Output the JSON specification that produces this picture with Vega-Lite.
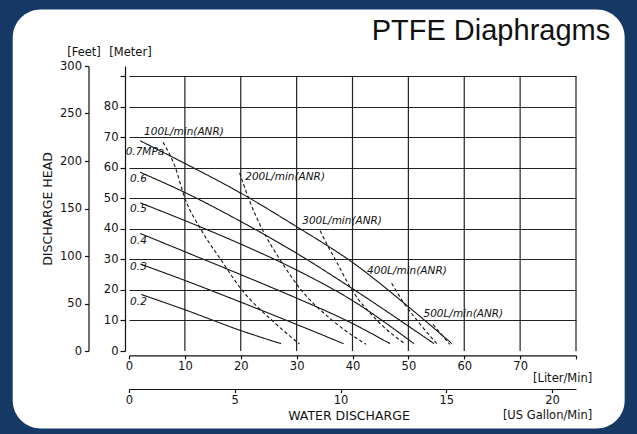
{
  "$schema": "https://vega.github.io/schema/vega-lite/v6.json",
  "width": 447,
  "height": 285,
  "padding": {"left": 12, "top": 9, "right": 13, "bottom": 6},
  "background": "#153864",
  "config": {
    "view": {"stroke": null},
    "axis": {
      "labelFont": "DejaVu Sans", "labelFontSize": 11.5, "labelColor": "#111",
      "titleFont": "DejaVu Sans", "titleFontWeight": "normal", "titleColor": "#111",
      "domainColor": "#111", "domainWidth": 1.2, "tickColor": "#111", "tickWidth": 1.2,
      "grid": false, "labelFlush": false, "labelOverlap": false
    }
  },
  "resolve": {
    "scale": {"x": "independent", "y": "independent"},
    "axis": {"x": "independent", "y": "independent"}
  },
  "layer": [
    {
      "data": {"values": [{}]},
      "mark": {"type": "rect", "fill": "#ffffff", "cornerRadius": 28},
      "encoding": {
        "x": {"datum": -5.498, "type": "quantitative",
          "scale": {"domain": [0, 21.134], "nice": false, "zero": false},
          "axis": {"orient": "bottom", "zindex": 1, "offset": 38, "values": [0, 5, 10, 15, 20], "tickSize": 3.5, "labelPadding": 2,
            "title": "[US Gallon/Min]", "titleX": 462.7, "titleY": 26.6, "titleAlign": "right", "titleBaseline": "middle", "titleFontSize": 11.5}},
        "x2": {"datum": 23.435},
        "y": {"datum": 359.4, "type": "quantitative",
          "scale": {"domain": [0, 300], "nice": false, "zero": false},
          "axis": {"orient": "left", "zindex": 1, "offset": 40.5, "values": [0, 50, 100, 150, 200, 250, 300], "tickSize": 4, "labelPadding": 3,
            "title": "[Feet]", "titleAngle": 0, "titleX": -5, "titleY": -13.5, "titleAlign": "center", "titleBaseline": "middle", "titleFontSize": 11.5}},
        "y2": {"datum": -81.7}
      }
    },
    {
      "data": {"values": [{"lpm": 10}, {"lpm": 20}, {"lpm": 30}, {"lpm": 40}, {"lpm": 50}, {"lpm": 60}, {"lpm": 70}, {"lpm": 80}]},
      "mark": {"type": "rule", "color": "#222", "strokeWidth": 1.2},
      "encoding": {
        "x": {"field": "lpm", "type": "quantitative",
          "scale": {"domain": [0, 80], "nice": false, "zero": false},
          "axis": {"orient": "top", "zindex": 1, "domain": false, "ticks": false, "labels": false,
            "title": "PTFE Diaphragms", "titleFont": "Liberation Sans", "titleFontSize": 29,
            "titleX": 480.7, "titleY": -26.4, "titleAlign": "right", "titleBaseline": "alphabetic"}},
        "y": {"datum": 0, "type": "quantitative",
          "scale": {"domain": [0, 93.3], "nice": false, "zero": false}, "axis": null},
        "y2": {"datum": 90}
      }
    },
    {
      "data": {"values": [
        {"series": "0.7", "type": "pressure", "lpm": 2, "m": 68.8},
        {"series": "0.7", "type": "pressure", "lpm": 10, "m": 61.4},
        {"series": "0.7", "type": "pressure", "lpm": 20, "m": 51.7},
        {"series": "0.7", "type": "pressure", "lpm": 30, "m": 40.7},
        {"series": "0.7", "type": "pressure", "lpm": 40, "m": 29.0},
        {"series": "0.7", "type": "pressure", "lpm": 50, "m": 14.5},
        {"series": "0.7", "type": "pressure", "lpm": 57.8, "m": 2.4},
        {"series": "0.6", "type": "pressure", "lpm": 2, "m": 58.5},
        {"series": "0.6", "type": "pressure", "lpm": 10, "m": 51.9},
        {"series": "0.6", "type": "pressure", "lpm": 20, "m": 42.4},
        {"series": "0.6", "type": "pressure", "lpm": 30, "m": 32.0},
        {"series": "0.6", "type": "pressure", "lpm": 40, "m": 20.4},
        {"series": "0.6", "type": "pressure", "lpm": 54.6, "m": 2.4},
        {"series": "0.5", "type": "pressure", "lpm": 2, "m": 48.5},
        {"series": "0.5", "type": "pressure", "lpm": 10, "m": 42.7},
        {"series": "0.5", "type": "pressure", "lpm": 20, "m": 35.0},
        {"series": "0.5", "type": "pressure", "lpm": 30, "m": 26.5},
        {"series": "0.5", "type": "pressure", "lpm": 40, "m": 16.5},
        {"series": "0.5", "type": "pressure", "lpm": 51, "m": 2.4},
        {"series": "0.4", "type": "pressure", "lpm": 2, "m": 38.5},
        {"series": "0.4", "type": "pressure", "lpm": 10, "m": 32.5},
        {"series": "0.4", "type": "pressure", "lpm": 20, "m": 25.0},
        {"series": "0.4", "type": "pressure", "lpm": 30, "m": 17.3},
        {"series": "0.4", "type": "pressure", "lpm": 40, "m": 9.0},
        {"series": "0.4", "type": "pressure", "lpm": 46.7, "m": 2.4},
        {"series": "0.3", "type": "pressure", "lpm": 2, "m": 28.5},
        {"series": "0.3", "type": "pressure", "lpm": 10, "m": 23.1},
        {"series": "0.3", "type": "pressure", "lpm": 20, "m": 16.0},
        {"series": "0.3", "type": "pressure", "lpm": 30, "m": 8.7},
        {"series": "0.3", "type": "pressure", "lpm": 38.4, "m": 2.4},
        {"series": "0.2", "type": "pressure", "lpm": 2.2, "m": 18.5},
        {"series": "0.2", "type": "pressure", "lpm": 10, "m": 13.5},
        {"series": "0.2", "type": "pressure", "lpm": 20, "m": 6.7},
        {"series": "0.2", "type": "pressure", "lpm": 27.2, "m": 2.4},
        {"series": "100", "type": "air", "lpm": 6.1, "m": 68.3},
        {"series": "100", "type": "air", "lpm": 8.3, "m": 60},
        {"series": "100", "type": "air", "lpm": 10, "m": 50},
        {"series": "100", "type": "air", "lpm": 12.8, "m": 40},
        {"series": "100", "type": "air", "lpm": 16.4, "m": 30},
        {"series": "100", "type": "air", "lpm": 20.2, "m": 20},
        {"series": "100", "type": "air", "lpm": 25.6, "m": 10},
        {"series": "100", "type": "air", "lpm": 30.5, "m": 2.3},
        {"series": "200", "type": "air", "lpm": 19.8, "m": 58.3},
        {"series": "200", "type": "air", "lpm": 21.4, "m": 50},
        {"series": "200", "type": "air", "lpm": 23.8, "m": 40},
        {"series": "200", "type": "air", "lpm": 27, "m": 30},
        {"series": "200", "type": "air", "lpm": 30.8, "m": 20},
        {"series": "200", "type": "air", "lpm": 36.4, "m": 10},
        {"series": "200", "type": "air", "lpm": 42.4, "m": 2.2},
        {"series": "300", "type": "air", "lpm": 34.2, "m": 39.4},
        {"series": "300", "type": "air", "lpm": 35.7, "m": 34},
        {"series": "300", "type": "air", "lpm": 36.9, "m": 30},
        {"series": "300", "type": "air", "lpm": 39.9, "m": 20},
        {"series": "300", "type": "air", "lpm": 44.4, "m": 10},
        {"series": "300", "type": "air", "lpm": 49.5, "m": 2.2},
        {"series": "400", "type": "air", "lpm": 47.0, "m": 22.2},
        {"series": "400", "type": "air", "lpm": 49.1, "m": 16},
        {"series": "400", "type": "air", "lpm": 52, "m": 9},
        {"series": "400", "type": "air", "lpm": 55.1, "m": 2.4},
        {"series": "500", "type": "air", "lpm": 54.4, "m": 8.7},
        {"series": "500", "type": "air", "lpm": 57.4, "m": 2.2}
      ]},
      "mark": {"type": "line", "color": "#111", "strokeWidth": 1.1, "interpolate": "monotone"},
      "encoding": {
        "x": {"field": "lpm", "type": "quantitative",
          "scale": {"domain": [0, 80], "nice": false, "zero": false},
          "axis": {"orient": "bottom", "zindex": 1, "offset": 4.4, "values": [0, 10, 20, 30, 40, 50, 60, 70, 80],
            "labelExpr": "datum.value == 80 ? '' : datum.label", "tickSize": 3.5, "labelPadding": 2,
            "title": "[Liter/Min]", "titleX": 462.7, "titleY": 23, "titleAlign": "right", "titleBaseline": "middle", "titleFontSize": 11.5}},
        "y": {"field": "m", "type": "quantitative",
          "scale": {"domain": [0, 93.3], "nice": false, "zero": false},
          "axis": {"orient": "left", "zindex": 1, "offset": 4, "values": [0, 10, 20, 30, 40, 50, 60, 70, 80, 90],
            "labelExpr": "datum.value == 90 ? '' : datum.label", "tickSize": 5, "labelPadding": 2, "labelOverlap": false,
            "grid": true, "gridColor": "#222", "gridWidth": 1.2,
            "gridOpacity": {"condition": {"test": "datum.value == 0", "value": 0}, "value": 1},
            "title": "[Meter]", "titleAngle": 0, "titleX": 5, "titleY": -13.5, "titleAlign": "center", "titleBaseline": "middle", "titleFontSize": 11.5}},
        "detail": {"field": "series"},
        "strokeDash": {"field": "type", "type": "nominal",
          "scale": {"domain": ["pressure", "air"], "range": [[1, 0], [3.5, 2.5]]}, "legend": null}
      }
    },
    {
      "data": {"values": [
        {"label": "0.7MPa", "lpm": -0.6, "m": 65.0},
        {"label": "0.6", "lpm": 0.2, "m": 56.3},
        {"label": "0.5", "lpm": 0.2, "m": 46.4},
        {"label": "0.4", "lpm": 0.2, "m": 35.9},
        {"label": "0.3", "lpm": 0.2, "m": 27.4},
        {"label": "0.2", "lpm": 0.2, "m": 16.2},
        {"label": "100L/min(ANR)", "lpm": 2.7, "m": 71.8},
        {"label": "200L/min(ANR)", "lpm": 20.8, "m": 56.8},
        {"label": "300L/min(ANR)", "lpm": 31.0, "m": 42.4},
        {"label": "400L/min(ANR)", "lpm": 42.6, "m": 26.1},
        {"label": "500L/min(ANR)", "lpm": 52.7, "m": 12.2}
      ]},
      "mark": {"type": "text", "font": "DejaVu Sans", "fontSize": 10.5, "fontStyle": "italic", "align": "left", "baseline": "middle", "color": "#111"},
      "encoding": {
        "x": {"field": "lpm", "type": "quantitative",
          "scale": {"domain": [0, 80], "nice": false, "zero": false},
          "axis": {"orient": "bottom", "zindex": 1, "domain": false, "ticks": false, "labels": false,
            "title": "WATER DISCHARGE", "titleX": 219.5, "titleY": 64.6, "titleAlign": "center", "titleBaseline": "middle", "titleFontSize": 12.5}},
        "y": {"field": "m", "type": "quantitative",
          "scale": {"domain": [0, 93.3], "nice": false, "zero": false},
          "axis": {"orient": "left", "zindex": 1, "domain": false, "ticks": false, "labels": false,
            "title": "DISCHARGE HEAD", "titleAngle": -90, "titleX": -81.3, "titleY": 142.5, "titleAlign": "center", "titleBaseline": "middle", "titleFontSize": 12.5}},
        "text": {"field": "label"}
      }
    }
  ]
}
